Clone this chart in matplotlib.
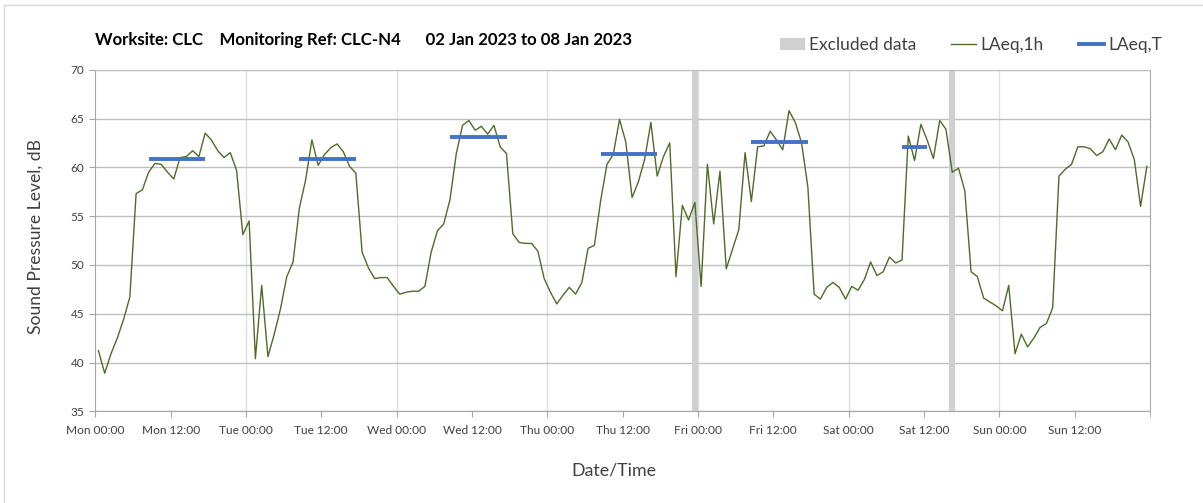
"""Hourly noise monitoring chart, CLC-N4, 02-08 Jan 2023."""
import matplotlib
matplotlib.use("Agg")
import matplotlib.pyplot as plt
from matplotlib.lines import Line2D
from matplotlib.patches import Patch

# hourly LAeq values, one per hour starting Mon 00:00 (plotted mid-hour)
laeq_1h = [
    41.2, 38.9, 40.9, 42.5, 44.4, 46.7, 57.3, 57.7, 59.5, 60.4,
    60.3, 59.5, 58.8, 61.0, 61.1, 61.7, 61.1, 63.5, 62.8, 61.7,
    61.0, 61.5, 59.7, 53.1, 54.5, 40.4, 47.9, 40.6, 42.9, 45.5,
    48.8, 50.3, 55.8, 58.7, 62.8, 60.2, 61.3, 62.0, 62.4, 61.6,
    60.1, 59.4, 51.3, 49.7, 48.6, 48.7, 48.7, 47.8, 47.0, 47.2,
    47.3, 47.3, 47.8, 51.3, 53.5, 54.2, 56.7, 61.4, 64.3, 64.8,
    63.8, 64.2, 63.4, 64.3, 62.1, 61.4, 53.2, 52.3, 52.2, 52.2,
    51.4, 48.6, 47.2, 46.0, 46.9, 47.7, 47.0, 48.2, 51.7, 52.0,
    56.6, 60.3, 61.3, 64.9, 62.6, 56.9, 58.5, 60.8, 64.6, 59.1,
    61.1, 62.5, 48.8, 56.1, 54.6, 56.4, 47.8, 60.3, 54.2, 59.6,
    49.6, 51.6, 53.6, 61.5, 56.5, 62.1, 62.2, 63.7, 62.8, 61.8,
    65.8, 64.6, 62.5, 58.0, 47.0, 46.5, 47.7, 48.2, 47.7, 46.5,
    47.8, 47.4, 48.5, 50.3, 48.9, 49.3, 50.8, 50.2, 50.5, 63.2,
    60.7, 64.4, 62.8, 60.9, 64.8, 63.9, 59.5, 59.9, 57.6, 49.3,
    48.8, 46.6, 46.2, 45.8, 45.3, 47.9, 40.9, 42.9, 41.6, 42.5,
    43.6, 44.0, 45.6, 59.1, 59.8, 60.3, 62.1, 62.1, 61.9, 61.2,
    61.6, 62.9, 61.8, 63.3, 62.6, 60.8, 56.0, 60.1,
]

# daytime LAeq,T: (first hour, last hour, level)
laeq_t_start = [8, 32, 56, 80, 104, 128]
laeq_t_end = [17, 41, 65, 89, 113, 132]
laeq_t_level = [60.9, 60.8, 63.1, 61.4, 62.6, 62.1]

# excluded hours (start, end)
excluded = [(95, 96), (136, 137)]

days = ["Mon", "Tue", "Wed", "Thu", "Fri", "Sat", "Sun"]
tick_labels = ["%s %s" % (d, t) for d in days for t in ("00:00", "12:00")]

plt.rcParams["font.family"] = ["Lato", "DejaVu Sans"]

fig = plt.figure(figsize=(12.03, 5.03), dpi=100)
ax = fig.add_axes([95.3 / 1203, 1 - 411.3 / 503, (1150 - 95.3) / 1203, (411.3 - 69.7) / 503])

for a, b in excluded:
    ax.axvspan(a, b, color="#d0d0d0", lw=0, zorder=1)

hours = [h + 0.5 for h in range(len(laeq_1h))]
ax.plot(hours, laeq_1h, color="#4f6b2a", lw=1.0, zorder=3)
for s, e, v in zip(laeq_t_start, laeq_t_end, laeq_t_level):
    ax.plot([s + 0.5, e + 0.5], [v, v], color="#4472c4", lw=2.8, zorder=4,
            solid_capstyle="butt")

ax.set_xlim(0, 168)
ax.set_ylim(35, 70)
ax.set_yticks(range(35, 71, 5))
ax.set_xticks(range(0, 168, 12))
ax.set_xticks([168], minor=True)
ax.set_xticklabels(tick_labels)
ax.tick_params(axis="x", which="both", length=4, color="#a6a6a6", labelsize=8.6,
               labelcolor="#404040", pad=6)
ax.tick_params(axis="y", length=4, color="#a6a6a6", labelsize=8.5,
               labelcolor="#404040", pad=4)

ax.yaxis.grid(True, color="#bfbfbf", lw=1.0, zorder=0)
for d in range(24, 168, 24):
    ax.axvline(d, color="#e0e0e0", lw=1.0, zorder=0)
for side in ("left", "bottom", "right"):
    ax.spines[side].set_color("#a6a6a6")
ax.spines["top"].set_color("#bfbfbf")
ax.set_axisbelow(True)

fig.text(95 / 1203, 1 - 40 / 503,
         "Worksite: CLC    Monitoring Ref: CLC-N4      02 Jan 2023 to 08 Jan 2023",
         fontsize=12.1, fontweight="bold", ha="left", va="center", color="#000000")
fig.text(36 / 1203, 1 - 236 / 503, "Sound Pressure Level, dB", rotation=90,
         fontsize=12.6, ha="center", va="center", color="#404040")
fig.text(614 / 1203, 1 - 470 / 503, "Date/Time", fontsize=12.8,
         ha="center", va="center", color="#404040")

handles = [Patch(facecolor="#d0d0d0", edgecolor="none"),
           Line2D([], [], color="#4f6b2a", lw=1.0),
           Line2D([], [], color="#4472c4", lw=2.8)]
fig.legend(handles, ["Excluded data", "LAeq,1h", "LAeq,T"], ncol=3,
           loc="center right", bbox_to_anchor=(1162 / 1203, 1 - 45 / 503),
           frameon=False, fontsize=12.5, handlelength=1.45, columnspacing=2.0,
           handletextpad=0.25, labelcolor="#404040", borderpad=0, borderaxespad=0)

# chart area border (left and top edges visible)
fig.add_artist(Line2D([4 / 1203, 4 / 1203], [0, 1 - 5 / 503], color="#d9d9d9", lw=1))
fig.add_artist(Line2D([4 / 1203, 1], [1 - 5 / 503, 1 - 5 / 503], color="#d9d9d9", lw=1))

fig.savefig("out.png", dpi=100)
